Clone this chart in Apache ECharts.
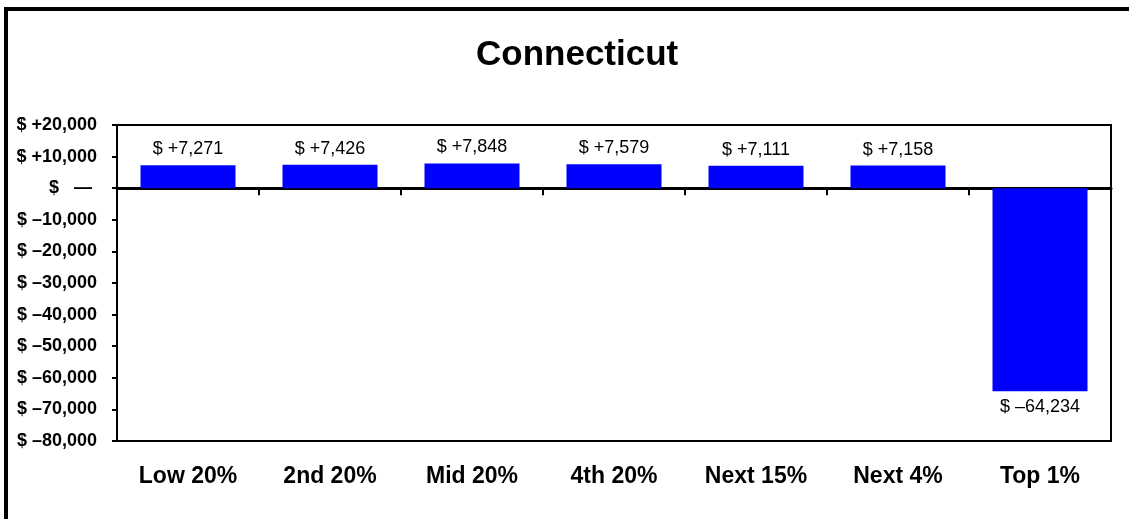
<!DOCTYPE html>
<html>
<head>
<meta charset="utf-8">
<script src="https://cdn.jsdelivr.net/npm/echarts@6/dist/echarts.min.js"></script>
<style>
html,body{margin:0;padding:0;background:#fff;}
#c{width:1129px;height:519px;}
</style>
</head>
<body>
<div id="c"></div>
<script>
const titleText = 'Connecticut';
const categories = ['Low 20%', '2nd 20%', 'Mid 20%', '4th 20%', 'Next 15%', 'Next 4%', 'Top 1%'];
const values = [7271, 7426, 7848, 7579, 7111, 7158, -64234];
const yMin = -80000, yMax = 20000, yStep = 10000;

const FONT = '"Liberation Sans", Arial, sans-serif';
function fmtNum(v) { return Math.abs(v).toLocaleString('en-US'); }
function fmtLabel(v) {
  if (v > 0) return '$ +' + fmtNum(v);
  if (v < 0) return '$ \u2013' + fmtNum(v);
  return '$   \u2014 ';
}

const chart = echarts.init(document.getElementById('c'), null, {renderer: 'canvas'});
chart.setOption({
  animation: false,
  backgroundColor: '#fff',
  title: {
    text: titleText, left: 471, top: 33,
    textStyle: {fontFamily: FONT, fontSize: 35, fontWeight: 'bold', color: '#000'}
  },
  graphic: [{
    type: 'rect', shape: {x: 6, y: 9, width: 1200, height: 600},
    style: {fill: null, stroke: '#000', lineWidth: 4}, silent: true, z: 100
  }],
  grid: {left: 117, right: 18, top: 125, bottom: 78, show: true, borderColor: '#000', borderWidth: 2, backgroundColor: 'transparent'},
  xAxis: [{
    type: 'category', data: categories, position: 'bottom',
    axisLine: {show: false, onZero: false}, axisTick: {show: false},
    axisLabel: {fontFamily: FONT, fontSize: 23, fontWeight: 'bold', color: '#000', margin: 24, interval: 0}
  }, {
    type: 'category', data: categories, position: 'top',
    axisLine: {show: true, onZero: true, onZeroAxisIndex: 0, lineStyle: {color: '#000', width: 3}},
    axisTick: {show: true, inside: true, length: 7, lineStyle: {color: '#000', width: 2}},
    axisLabel: {show: false}
  }],
  yAxis: {
    type: 'value', min: yMin, max: yMax, interval: yStep,
    axisLine: {show: true, lineStyle: {color: '#000', width: 2}},
    axisTick: {show: true, length: 5, lineStyle: {color: '#000', width: 2}},
    splitLine: {show: false},
    axisLabel: {fontFamily: FONT, fontSize: 18, fontWeight: 'bold', color: '#000', margin: 20, formatter: fmtLabel}
  },
  series: [{
    type: 'bar', xAxisIndex: 0, data: values.map(v => ({
      value: v,
      label: {position: v >= 0 ? 'top' : 'bottom'}
    })),
    barWidth: 95,
    itemStyle: {color: '#0000FF'},
    label: {show: true, distance: 7, fontFamily: FONT, fontSize: 18, color: '#000', formatter: p => fmtLabel(p.value)}
  }]
});
</script>
</body>
</html>
